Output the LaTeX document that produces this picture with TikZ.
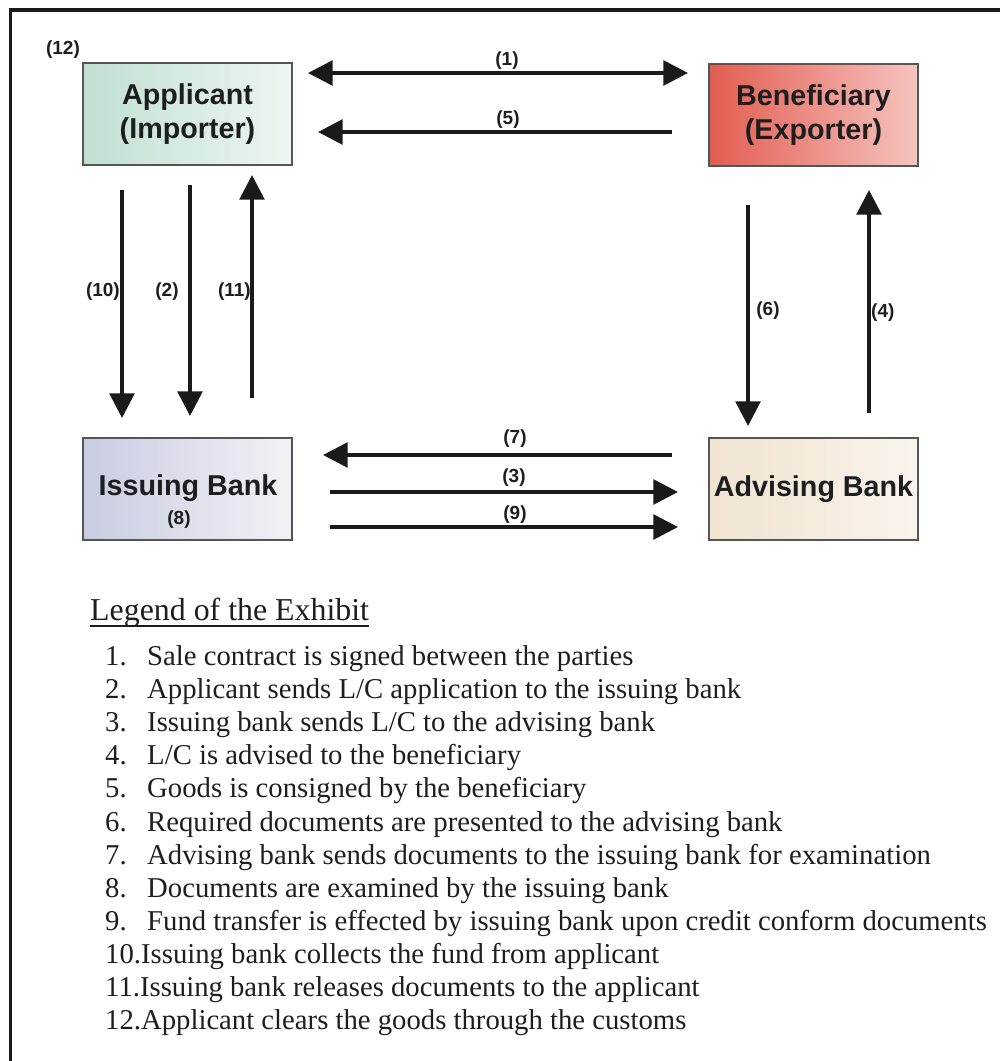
\documentclass[tikz,border=0pt]{standalone}
\usepackage{fontspec}
\setmainfont{Liberation Serif}
\newfontfamily\arialf{Liberation Sans}
\usetikzlibrary{arrows.meta,calc}
\definecolor{txt}{HTML}{1E1E1E}
\definecolor{boxline}{HTML}{555555}
\definecolor{arrc}{HTML}{1A1A1A}
\begin{document}
\begin{tikzpicture}[x=0.03cm,y=-0.03cm,
  box/.style={draw=boxline,line width=1.2pt,minimum width=6.27cm,minimum height=3.06cm,inner sep=0pt,align=center,
    font=\arialf\bfseries\fontsize{24.5}{29}\selectfont,text=txt},
  lab/.style={font=\arialf\bfseries\fontsize{16.2}{19}\selectfont,inner sep=0pt,text=txt},
  arr/.style={line width=3.2pt,draw=arrc,-{Triangle[length=21pt,width=21pt]}},
  darr/.style={line width=3.2pt,draw=arrc,{Triangle[length=21pt,width=21pt]}-{Triangle[length=21pt,width=21pt]}},
  leg/.style={font=\fontsize{24.5}{28}\selectfont,anchor=base west,inner sep=0pt,text=txt}]
\useasboundingbox (0,0) rectangle (1000,1061);
% frame
\draw[line width=3.4pt,draw=arrc] (10.5,1061) -- (10.5,10) -- (1000,10);
% boxes
\node[box,left color={rgb,255:red,192;green,224;blue,209},right color={rgb,255:red,237;green,246;blue,242}] (app) at (187.5,114) {Applicant\\(Importer)};
\node[box,left color={rgb,255:red,226;green,92;blue,80},right color={rgb,255:red,246;green,196;blue,192}] (ben) at (813.5,115) {Beneficiary\\(Exporter)};
\node[box,left color={rgb,255:red,200;green,204;blue,224},right color={rgb,255:red,242;green,242;blue,246}] (iss) at (187.5,489) {};
\node[box,left color={rgb,255:red,240;green,227;blue,208},right color={rgb,255:red,249;green,244;blue,236}] (adv) at (813.5,489) {Advising Bank};
\node[font=\arialf\bfseries\fontsize{24.5}{28}\selectfont,text=txt,inner sep=0pt] (isst) at (188,488) {Issuing Bank};
\node[lab] (l8) at (179,520) {(8)};
\node[lab] (l12) at (63,50) {(12)};
% arrow end points
\coordinate (c1a) at (308,73);  \coordinate (c1b) at (688,73);
\coordinate (c5a) at (672,132); \coordinate (c5b) at (318,132);
\coordinate (c10a) at (122,190); \coordinate (c10b) at (122,418);
\coordinate (c2a) at (190,185);  \coordinate (c2b) at (190,416);
\coordinate (c11a) at (252,398); \coordinate (c11b) at (252,175);
\coordinate (c6a) at (748,205);  \coordinate (c6b) at (748,426);
\coordinate (c4a) at (869,413);  \coordinate (c4b) at (869,190);
\coordinate (c7a) at (672,455);  \coordinate (c7b) at (323,455);
\coordinate (c3a) at (330,492);  \coordinate (c3b) at (678,492);
\coordinate (c9a) at (330,527);  \coordinate (c9b) at (678,527);
% arrows
\draw[darr] (c1a) -- (c1b);
\draw[arr] (c5a) -- (c5b);
\draw[arr] (c10a) -- (c10b);
\draw[arr] (c2a) -- (c2b);
\draw[arr] (c11a) -- (c11b);
\draw[arr] (c6a) -- (c6b);
\draw[arr] (c4a) -- (c4b);
\draw[arr] (c7a) -- (c7b);
\draw[arr] (c3a) -- (c3b);
\draw[arr] (c9a) -- (c9b);
% labels
\node[lab] (l1) at (507,61) {(1)};
\node[lab] (l5) at (508,120) {(5)};
\node[lab,anchor=east] (l10) at (120,292) {(10)};
\node[lab] (l2) at (167,292) {(2)};
\node[lab,anchor=east] (l11) at (251,292) {(11)};
\node[lab] (l6) at (768,311) {(6)};
\node[lab,anchor=west] (l4) at (871,313) {(4)};
\node[lab] (l7) at (515,439) {(7)};
\node[lab] (l3) at (514,478) {(3)};
\node[lab] (l9) at (515,515) {(9)};
% legend
\node[leg,font=\fontsize{27.2}{30}\selectfont] (hdr) at (90,620) {Legend of the Exhibit};
\draw[line width=1.8pt,draw=txt] ($(hdr.base west)+(0,6)$) -- ($(hdr.base east)+(0,6)$);
\node[leg] (n1) at (105,665) {1.}; \node[leg] (t1) at (147,665) {Sale contract is signed between the parties};
\node[leg] (n2) at (105,698) {2.}; \node[leg] (t2) at (147,698) {Applicant sends L/C application to the issuing bank};
\node[leg] (n3) at (105,731) {3.}; \node[leg] (t3) at (147,731) {Issuing bank sends L/C to the advising bank};
\node[leg] (n4) at (105,764) {4.}; \node[leg] (t4) at (147,764) {L/C is advised to the beneficiary};
\node[leg] (n5) at (105,797) {5.}; \node[leg] (t5) at (147,797) {Goods is consigned by the beneficiary};
\node[leg] (n6) at (105,831) {6.}; \node[leg] (t6) at (147,831) {Required documents are presented to the advising bank};
\node[leg] (n7) at (105,864) {7.}; \node[leg] (t7) at (147,864) {Advising bank sends documents to the issuing bank for examination};
\node[leg] (n8) at (105,897) {8.}; \node[leg] (t8) at (147,897) {Documents are examined by the issuing bank};
\node[leg] (n9) at (105,930) {9.}; \node[leg] (t9) at (147,930) {Fund transfer is effected by issuing bank upon credit conform documents};
\node[leg] (t10) at (105,963) {10.Issuing bank collects the fund from applicant};
\node[leg] (t11) at (105,996) {11.Issuing bank releases documents to the applicant};
\node[leg] (t12) at (105,1029) {12.Applicant clears the goods through the customs};
\end{tikzpicture}
\end{document}
